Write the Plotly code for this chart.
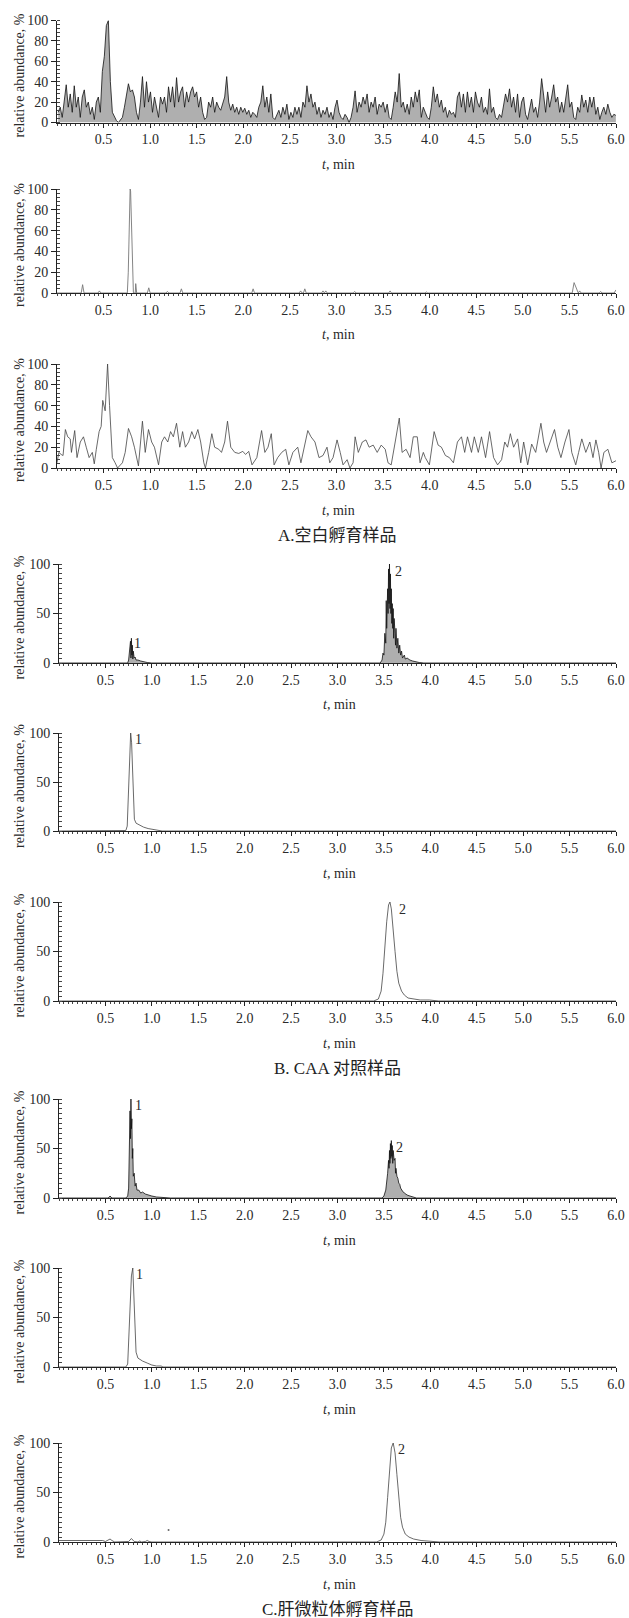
import plotly.graph_objects as go

W, H = 629, 1618
FONT = "Liberation Serif, DejaVu Serif, serif"
CJK = "Liberation Serif, Noto Sans CJK SC, serif"

# ---------------- data ----------------
X_TICKS = [0.5, 1.0, 1.5, 2.0, 2.5, 3.0, 3.5, 4.0, 4.5, 5.0, 5.5, 6.0]
X_LABELS = ["0.5", "1.0", "1.5", "2.0", "2.5", "3.0", "3.5", "4.0", "4.5", "5.0", "5.5", "6.0"]
Y_TICKS_A = [0, 20, 40, 60, 80, 100]
Y_TICKS_BC = [0, 50, 100]

# A1: dense total trace, uniform scan interval
A1_start = 0.013
A1_step = 0.02153
A1_y = [10, 15, 5, 20, 37, 15, 28, 10, 36, 15,
        25, 5, 25, 32, 15, 20, 8, 15, 3, 20,
        25, 10, 50, 65, 95, 100, 40, 10, 5, 2,
        0, 2, 5, 15, 28, 38, 30, 32, 25, 10,
        3, 20, 45, 15, 40, 20, 30, 10, 25, 15,
        5, 25, 18, 25, 10, 35, 20, 35, 15, 44,
        20, 30, 35, 15, 30, 20, 30, 35, 25, 30,
        15, 25, 10, 3, 5, 20, 15, 25, 10, 20,
        15, 12, 20, 25, 45, 20, 12, 18, 10, 15,
        8, 15, 10, 14, 8, 12, 5, 10, 8, 5,
        15, 20, 36, 15, 25, 10, 28, 5, 3, 8,
        12, 5, 15, 8, 18, 3, 10, 5, 15, 8,
        15, 5, 20, 15, 36, 20, 28, 15, 20, 8,
        15, 5, 12, 8, 15, 5, 10, 3, 15, 22,
        10, 5, 3, 8, 5, 0, 5, 15, 31, 10,
        20, 15, 25, 18, 28, 10, 20, 15, 25, 8,
        18, 15, 20, 10, 18, 5, 3, 15, 30, 20,
        48, 15, 20, 10, 18, 8, 25, 15, 30, 20,
        32, 5, 15, 10, 5, 3, 15, 35, 20, 28,
        15, 22, 10, 15, 5, 12, 8, 10, 5, 25,
        30, 15, 28, 10, 30, 15, 25, 10, 30, 20,
        15, 25, 10, 15, 8, 33, 10, 15, 5, 3,
        8, 5, 15, 28, 20, 33, 15, 25, 10, 28,
        5, 20, 25, 8, 3, 15, 23, 10, 15, 5,
        20, 43, 25, 10, 30, 15, 25, 37, 20, 25,
        10, 20, 10, 25, 37, 15, 20, 5, 3, 15,
        10, 27, 15, 22, 10, 25, 15, 25, 8, 15,
        3, 10, 15, 8, 18, 10, 5, 8, 7]
A1_t = [A1_start + i * A1_step for i in range(len(A1_y))]

A2_t = [0.0, 0.26, 0.275, 0.29, 0.44, 0.455, 0.47, 0.755, 0.765, 0.775,
        0.785, 0.79, 0.80, 0.81, 0.82, 0.84, 0.845, 0.855, 0.97, 0.985,
        1.0, 1.17, 1.185, 1.2, 1.32, 1.335, 1.35, 2.09, 2.105, 2.12,
        2.6, 2.615, 2.63, 2.645, 2.66, 2.675, 2.84, 2.855, 2.87, 2.885,
        2.9, 3.18, 3.195, 3.21, 3.56, 3.575, 3.59, 3.95, 3.965, 3.98,
        5.53, 5.55, 5.565, 5.58, 5.595, 5.61, 5.625, 5.82, 5.835, 5.85,
        5.98, 6.0]
A2_y = [0, 0, 8, 0, 0, 2, 0, 0, 20, 75,
        100, 98, 60, 15, 0, 0, 9, 0, 0, 5,
        0, 0, 1.5, 0, 0, 4, 0, 0, 4, 0,
        0, 2, 0, 0, 4, 0, 0, 2, 0, 2,
        0, 0, 1.5, 0, 0, 2, 0, 0, 1, 0,
        0, 10, 6, 2, 0, 2, 0, 0, 1.5, 0,
        0, 3]

A3_t = [0.0, 0.02, 0.045, 0.065, 0.09, 0.115, 0.142, 0.155, 0.19, 0.215,
        0.25, 0.284, 0.314, 0.345, 0.379, 0.40, 0.422, 0.452, 0.474, 0.491,
        0.517, 0.543, 0.564, 0.594, 0.624, 0.65, 0.702, 0.732, 0.767, 0.801,
        0.831, 0.874, 0.917, 0.947, 0.982, 1.016, 1.046, 1.09, 1.124, 1.154,
        1.189, 1.219, 1.249, 1.283, 1.318, 1.348, 1.378, 1.413, 1.447, 1.477,
        1.512, 1.542, 1.576, 1.593, 1.628, 1.662, 1.692, 1.736, 1.766, 1.80,
        1.83, 1.865, 1.908, 1.951, 1.994, 2.024, 2.058, 2.093, 2.145, 2.196,
        2.231, 2.265, 2.30, 2.33, 2.369, 2.412, 2.455, 2.489, 2.532, 2.584,
        2.618, 2.661, 2.692, 2.726, 2.769, 2.812, 2.855, 2.898, 2.928, 2.963,
        3.006, 3.04, 3.07, 3.114, 3.144, 3.178, 3.20, 3.234, 3.277, 3.316,
        3.35, 3.394, 3.437, 3.48, 3.523, 3.553, 3.587, 3.63, 3.674, 3.704,
        3.747, 3.79, 3.824, 3.867, 3.897, 3.932, 3.953, 3.997, 4.048, 4.091,
        4.126, 4.169, 4.212, 4.255, 4.298, 4.341, 4.376, 4.406, 4.449, 4.479,
        4.522, 4.556, 4.60, 4.643, 4.686, 4.729, 4.772, 4.806, 4.836, 4.866,
        4.901, 4.944, 4.978, 5.009, 5.052, 5.095, 5.138, 5.194, 5.224, 5.254,
        5.297, 5.34, 5.375, 5.409, 5.452, 5.495, 5.525, 5.568, 5.599, 5.633,
        5.676, 5.719, 5.753, 5.784, 5.814, 5.84, 5.87, 5.913, 5.956, 6.0]
A3_y = [5, 15, 13, 12, 37, 30, 28, 15, 36, 10,
        25, 30, 20, 10, 15, 4, 18, 35, 40, 65,
        55, 100, 60, 10, 5, 0, 5, 15, 38, 30,
        20, 2, 45, 15, 37, 25, 20, 3, 25, 30,
        25, 35, 30, 43, 20, 35, 20, 25, 35, 28,
        37, 25, 5, 0, 15, 33, 20, 18, 15, 25,
        45, 20, 15, 14, 16, 13, 16, 3, 10, 36,
        15, 20, 33, 3, 10, 15, 18, 3, 15, 20,
        5, 25, 36, 30, 25, 10, 12, 20, 5, 10,
        27, 15, 3, 8, 0, 5, 30, 15, 25, 27,
        20, 22, 15, 22, 18, 5, 3, 25, 48, 15,
        18, 10, 30, 30, 5, 15, 10, 3, 35, 22,
        20, 12, 10, 5, 25, 30, 15, 30, 15, 30,
        15, 30, 10, 35, 10, 3, 8, 25, 20, 33,
        20, 28, 5, 25, 3, 23, 15, 43, 25, 15,
        25, 37, 20, 10, 25, 37, 15, 3, 15, 28,
        15, 25, 10, 27, 15, 0, 15, 18, 5, 7]

B1_t = [0.0, 0.74, 0.75, 0.76, 0.77, 0.775, 0.78, 0.785, 0.79, 0.795,
        0.80, 0.81, 0.82, 0.83, 0.85, 0.88, 0.92, 0.95, 1.0, 3.46,
        3.48, 3.49, 3.50, 3.51, 3.52, 3.525, 3.53, 3.54, 3.545, 3.55,
        3.555, 3.56, 3.565, 3.57, 3.575, 3.58, 3.585, 3.59, 3.595, 3.60,
        3.605, 3.61, 3.62, 3.625, 3.63, 3.64, 3.65, 3.66, 3.67, 3.68,
        3.69, 3.70, 3.72, 3.73, 3.75, 3.78, 3.81, 3.85, 3.88, 3.93,
        6.0]
B1_y = [0, 0, 3, 10, 22, 5, 25, 8, 18, 4,
        12, 5, 6, 3, 3, 2, 1, 0.5, 0, 0,
        3, 10, 8, 30, 20, 63, 35, 75, 50, 95,
        60, 100, 55, 90, 50, 75, 40, 60, 35, 55,
        25, 45, 30, 18, 35, 15, 25, 10, 18, 8,
        12, 5, 8, 4, 5, 3, 2, 1, 0.5, 0,
        0]

B2_t = [0.0, 0.70, 0.72, 0.735, 0.75, 0.762, 0.772, 0.782, 0.792, 0.802,
        0.812, 0.83, 0.87, 0.91, 0.96, 1.01, 1.07, 1.11, 6.0]
B2_y = [0, 0, 0.5, 5, 50, 85, 100, 90, 55, 25,
        12, 8, 6, 4, 2.5, 1.5, 1, 0, 0]

B3_t = [0.0, 3.39, 3.44, 3.47, 3.49, 3.51, 3.53, 3.55, 3.565, 3.58,
        3.60, 3.62, 3.64, 3.66, 3.69, 3.72, 3.76, 3.81, 3.89, 3.99,
        4.04, 4.09, 6.0]
B3_y = [0, 0, 2, 10, 28, 55, 80, 97, 100, 93,
        75, 50, 30, 18, 10, 6, 3, 2, 1, 1,
        0.5, 0, 0]

C1_t = [0.0, 0.53, 0.55, 0.57, 0.72, 0.74, 0.75, 0.755, 0.76, 0.765,
        0.77, 0.775, 0.78, 0.785, 0.79, 0.795, 0.80, 0.81, 0.82, 0.83,
        0.84, 0.86, 0.88, 0.90, 0.93, 0.96, 1.0, 1.05, 1.1, 1.2,
        3.48, 3.50, 3.52, 3.53, 3.54, 3.55, 3.555, 3.56, 3.565, 3.57,
        3.575, 3.58, 3.585, 3.59, 3.595, 3.60, 3.61, 3.62, 3.625, 3.63,
        3.64, 3.65, 3.66, 3.67, 3.68, 3.69, 3.70, 3.72, 3.75, 3.78,
        3.82, 3.85, 6.0]
C1_y = [0, 0, 2, 0, 0, 2, 10, 44, 25, 88,
        60, 100, 70, 80, 40, 50, 22, 25, 12, 15,
        8, 8, 5, 6, 4, 3, 2, 1, 0.5, 0,
        0, 2, 8, 15, 25, 38, 30, 48, 35, 55,
        40, 58, 42, 53, 35, 48, 38, 40, 25, 30,
        22, 20, 15, 14, 10, 8, 7, 5, 3, 2,
        1, 0, 0]

C2_t = [0.0, 0.72, 0.74, 0.76, 0.78, 0.795, 0.81, 0.82, 0.83, 0.85,
        0.90, 0.95, 1.00, 1.05, 1.10, 1.12, 6.0]
C2_y = [0, 0, 3, 40, 92, 100, 70, 35, 15, 9,
        6, 4, 2, 1, 1, 0, 0]

C3_t = [0.0, 0.47, 0.50, 0.53, 0.55, 0.57, 0.60, 0.75, 0.78, 0.81,
        0.85, 0.87, 0.89, 0.93, 0.95, 0.97, 1.0, 3.42, 3.47, 3.50,
        3.52, 3.54, 3.56, 3.58, 3.60, 3.62, 3.64, 3.66, 3.68, 3.70,
        3.73, 3.77, 3.82, 3.90, 4.00, 4.05, 4.10, 6.0]
C3_y = [1.5, 1.5, 0.5, 2.5, 3, 1.5, 0, 0.5, 3.5, 0.5,
        0, 1, 0, 0.5, 1.5, 0.5, 0, 0, 2, 8,
        20, 45, 75, 95, 100, 90, 68, 42, 25, 15,
        8, 5, 3, 1.5, 1, 0.5, 0, 0]
C3_dot_t = [1.18]
C3_dot_y = [12]

# peak labels: (panel index, time, value, text)
PEAK_LABELS = [(4, 0.85, 20, "1"), (4, 3.66, 92, "2"),
               (5, 0.86, 93, "1"), (6, 3.70, 92, "2"),
               (7, 0.86, 93, "1"), (7, 3.67, 51, "2"),
               (8, 0.87, 93, "1"), (9, 3.69, 93, "2")]

SECTION_TITLES = ["A.空白孵育样品", "B. CAA 对照样品", "C.肝微粒体孵育样品"]

# ---------------- layout (pixel geometry) ----------------
XR = 616
panels = [
    dict(t=A1_t, y=A1_y, kind="dense", y100=20.5, y0=122.5, xl=57, yt=Y_TICKS_A),
    dict(t=A2_t, y=A2_y, kind="light", y100=189, y0=293, xl=57, yt=Y_TICKS_A),
    dict(t=A3_t, y=A3_y, kind="line", y100=364, y0=468, xl=57, yt=Y_TICKS_A),
    dict(t=B1_t, y=B1_y, kind="dense", y100=564, y0=663, xl=59, yt=Y_TICKS_BC),
    dict(t=B2_t, y=B2_y, kind="line", y100=733, y0=831, xl=59, yt=Y_TICKS_BC),
    dict(t=B3_t, y=B3_y, kind="line", y100=902, y0=1001, xl=59, yt=Y_TICKS_BC),
    dict(t=C1_t, y=C1_y, kind="dense", y100=1099, y0=1198, xl=59, yt=Y_TICKS_BC),
    dict(t=C2_t, y=C2_y, kind="line", y100=1268, y0=1367, xl=59, yt=Y_TICKS_BC),
    dict(t=C3_t, y=C3_y, kind="line", y100=1443, y0=1542, xl=59, yt=Y_TICKS_BC),
]
TITLE_Y = [535, 1068, 1609]

fig = go.Figure()
annotations = []
layout = {}
AX = "#222222"
TXT = "#2a2a2a"

for i, p in enumerate(panels, start=1):
    assert len(p["t"]) == len(p["y"]), (i, len(p["t"]), len(p["y"]))
    xa = "x" if i == 1 else f"x{i}"
    ya = "y" if i == 1 else f"y{i}"
    if p["kind"] == "dense":
        fig.add_trace(go.Scatter(x=p["t"], y=p["y"], xaxis=xa, yaxis=ya, mode="lines",
                                 line=dict(color="#111111", width=0.8),
                                 fill="tozeroy", fillcolor="rgba(110,110,110,0.55)",
                                 hoverinfo="skip"))
    elif p["kind"] == "light":
        fig.add_trace(go.Scatter(x=p["t"], y=p["y"], xaxis=xa, yaxis=ya, mode="lines",
                                 line=dict(color="#777777", width=0.9), hoverinfo="skip"))
    else:
        fig.add_trace(go.Scatter(x=p["t"], y=p["y"], xaxis=xa, yaxis=ya, mode="lines",
                                 line=dict(color="#444444", width=0.8), hoverinfo="skip"))
    if i == 9:
        fig.add_trace(go.Scatter(x=C3_dot_t, y=C3_dot_y, xaxis=xa, yaxis=ya, mode="markers",
                                 marker=dict(color="#666666", size=2), hoverinfo="skip"))

    ystep_minor = 4 if p["yt"] is Y_TICKS_A else 5
    key = "" if i == 1 else str(i)
    layout[f"xaxis{key}"] = dict(
        domain=[p["xl"] / W, XR / W], range=[0, 6.0], anchor=ya,
        showline=True, linecolor=AX, linewidth=1, mirror=False,
        tickmode="array", tickvals=X_TICKS, ticktext=X_LABELS,
        ticks="outside", ticklen=4, tickwidth=1, tickcolor=AX,
        tickfont=dict(family=FONT, size=14, color=TXT),
        showgrid=False, zeroline=False, fixedrange=True, automargin=False,
        minor=dict(tickmode="linear", tick0=0, dtick=0.05, ticks="outside",
                   ticklen=2, tickwidth=0.8, tickcolor="#444444", showgrid=False),
    )
    layout[f"yaxis{key}"] = dict(
        domain=[1 - p["y0"] / H, 1 - p["y100"] / H], range=[0, 100], anchor=xa,
        showline=True, linecolor=AX, linewidth=1,
        tickmode="array", tickvals=p["yt"], ticktext=[str(v) for v in p["yt"]],
        ticks="outside", ticklen=5, tickwidth=1, tickcolor=AX,
        tickfont=dict(family=FONT, size=14, color=TXT),
        showgrid=False, zeroline=False, fixedrange=True, automargin=False,
        minor=dict(tickmode="linear", tick0=0, dtick=ystep_minor, ticks="inside",
                   ticklen=3, tickwidth=0.8, tickcolor="#444444", showgrid=False),
    )
    mid = (p["y0"] + p["y100"]) / 2 + 4
    annotations.append(dict(text="relative abundance, %", textangle=-90,
                            x=19 / W, y=1 - mid / H, xref="paper", yref="paper",
                            xanchor="center", yanchor="middle", showarrow=False,
                            font=dict(family=FONT, size=14, color=TXT)))
    annotations.append(dict(text="<i>t</i>, min", x=((p["xl"] + XR) / 2 + 2) / W,
                            y=1 - (p["y0"] + 42) / H, xref="paper", yref="paper",
                            xanchor="center", yanchor="middle", showarrow=False,
                            font=dict(family=FONT, size=14, color=TXT)))

for (pi, t, v, txt) in PEAK_LABELS:
    key = "" if pi == 1 else str(pi)
    annotations.append(dict(text=txt, x=t, y=v, xref=f"x{key}", yref=f"y{key}",
                            xanchor="center", yanchor="middle", showarrow=False,
                            font=dict(family=FONT, size=14, color=TXT)))

for txt, ty in zip(SECTION_TITLES, TITLE_Y):
    annotations.append(dict(text=txt, x=(59 + XR) / 2 / W, y=1 - ty / H,
                            xref="paper", yref="paper", xanchor="center", yanchor="middle",
                            showarrow=False, font=dict(family=CJK, size=17, color="#222222")))

fig.update_layout(
    width=W, height=H, autosize=False,
    margin=dict(l=0, r=0, t=0, b=0, pad=0),
    paper_bgcolor="white", plot_bgcolor="white",
    showlegend=False, annotations=annotations, **layout,
)

fig.write_html("out.html", config={"displayModeBar": False},
               post_script="document.body.style.margin='0';document.body.style.overflow='hidden';")
